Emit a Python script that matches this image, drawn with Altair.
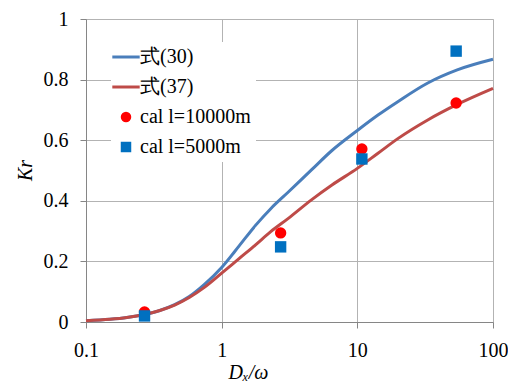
import altair as alt
import pandas as pd

# curve samples
curve_x = [0.1, 0.15, 0.2, 0.27, 0.35, 0.45, 0.577, 0.75, 1.0, 1.35, 1.77, 2.3, 3.1, 4.59, 6.5, 10.0, 14.2, 20.0, 32.8, 54.5, 100.0]
eq30_y = [0.004, 0.009, 0.015, 0.025, 0.038, 0.057, 0.084, 0.125, 0.18, 0.252, 0.318, 0.374, 0.429, 0.502, 0.566, 0.632, 0.683, 0.728, 0.788, 0.832, 0.867]
eq37_y = [0.004, 0.009, 0.015, 0.025, 0.038, 0.056, 0.081, 0.115, 0.161, 0.21, 0.254, 0.298, 0.342, 0.403, 0.452, 0.507, 0.557, 0.606, 0.666, 0.718, 0.771]

# calculated points
pt_x = [0.27, 2.72, 10.8, 53.5]
cal10000_y = [0.033, 0.294, 0.571, 0.723]
cal5000_y = [0.02, 0.248, 0.538, 0.894]

names = ["式(30)", "式(37)", "cal l=10000m", "cal l=5000m"]
colors = ["#4a7ebb", "#be4b48", "#ff0000", "#0070c0"]
shapes = ["stroke", "stroke", "circle", "square"]

lines = pd.DataFrame(
    [{"x": x, "y": y, "s": names[0]} for x, y in zip(curve_x, eq30_y)]
    + [{"x": x, "y": y, "s": names[1]} for x, y in zip(curve_x, eq37_y)]
)
points = pd.DataFrame(
    [{"x": x, "y": y, "s": names[2]} for x, y in zip(pt_x, cal10000_y)]
    + [{"x": x, "y": y, "s": names[3]} for x, y in zip(pt_x, cal5000_y)]
)

FONT = "Liberation Serif"
IS_LINE = "(datum.value == '式(30)' || datum.value == '式(37)')"

legend = alt.Legend(
    title=None, orient="none", legendX=25, legendY=23, fillColor="white",
    padding=5, labelFont=FONT, labelFontSize=20, labelColor="black",
    labelOffset=4, rowPadding=10, labelLimit=300,
    symbolSize=alt.ExprRef(IS_LINE + " ? 750 : 110"),
    symbolStrokeWidth=alt.ExprRef(IS_LINE + " ? 3 : 0"),
    symbolOpacity=1,
)

color = alt.Color("s:N", scale=alt.Scale(domain=names, range=colors), legend=legend)
shape = alt.Shape("s:N", scale=alt.Scale(domain=names, range=shapes), legend=legend)

xenc = alt.X(
    "x:Q",
    scale=alt.Scale(type="log", domain=[0.1, 100]),
    axis=alt.Axis(
        values=[0.1, 1, 10, 100], format="~g", title="Dₓ/ω",
        titleFont=FONT, titleFontSize=20, titleFontStyle="italic", titleFontWeight="normal",
        titleX=162, titleY=56, titleBaseline="alphabetic", titleColor="black",
        labelFont=FONT, labelFontSize=20, labelColor="black", labelPadding=12,
        domainColor="#868686", tickColor="#868686", tickSize=6,
        gridColor="#b3b3b3", labelFlush=False,
    ),
)
yenc = alt.Y(
    "y:Q",
    scale=alt.Scale(domain=[0, 1]),
    axis=alt.Axis(
        values=[0, 0.2, 0.4, 0.6, 0.8, 1.0], format="~g", title="Kr",
        titleFont=FONT, titleFontSize=20, titleFontStyle="italic", titleFontWeight="normal",
        titleX=-55, titleY=151, titleBaseline="alphabetic", titleAngle=270, titleColor="black",
        labelFont=FONT, labelFontSize=20, labelColor="black", labelPadding=12,
        domainColor="#868686", tickColor="#868686", tickSize=6,
        gridColor="#b3b3b3",
    ),
)

line_layer = alt.Chart(lines).mark_line(strokeWidth=3, interpolate="monotone").encode(
    x=xenc, y=yenc, color=color, detail="s:N"
)
point_layer = alt.Chart(points).mark_point(filled=True, opacity=1, size=130).encode(
    x="x:Q", y="y:Q", color=color, shape=shape
)

chart = alt.layer(line_layer, point_layer).properties(
    width=407, height=303,
    autosize=alt.AutoSizeParams(type="none"),
    padding={"left": 78, "top": 11, "right": 15, "bottom": 60},
).configure_view(stroke="black", strokeWidth=1.2).configure(background="white")

chart.save("out.html", embed_options={"renderer": "svg", "actions": False})
